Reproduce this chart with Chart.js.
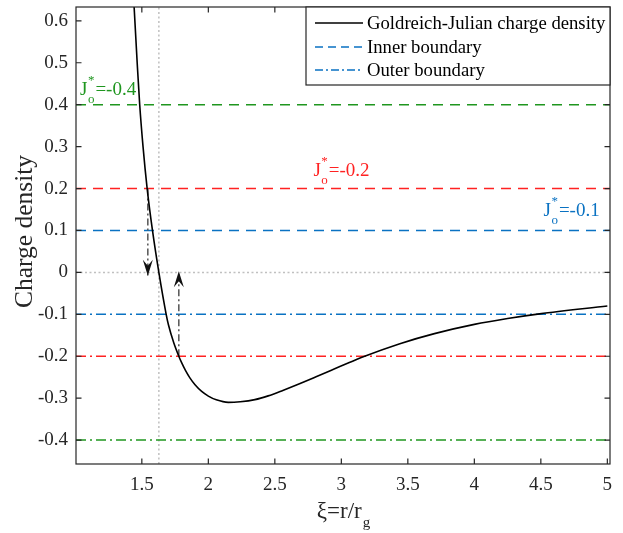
<!DOCTYPE html>
<html>
<head>
<meta charset="utf-8">
<script src="https://cdn.jsdelivr.net/npm/chart.js@4.4.1/dist/chart.umd.min.js"></script>
<style>
    html, body { margin: 0; padding: 0; background: #ffffff; }
    #chart-gj { display: block; }
</style>
</head>
<body>
<canvas id="chart-gj" width="623" height="533"></canvas>
<script>
// Goldreich-Julian charge density vs xi = r/r_g
const xi = [1.43, 1.442, 1.465, 1.484, 1.509, 1.540, 1.580, 1.628, 1.683, 1.70, 1.74, 1.778,
    1.80, 1.83, 1.86, 1.90, 1.95, 2.00, 2.06, 2.15, 2.24, 2.35, 2.45, 2.56, 2.69, 2.81, 2.95,
    3.06, 3.15, 3.44, 3.70, 4.00, 4.25, 4.49, 5.00];
const rhoGJ = [0.705, 0.633, 0.50, 0.40, 0.30, 0.20, 0.10, 0.0, -0.10, -0.125, -0.168, -0.200,
    -0.216, -0.235, -0.251, -0.268, -0.284, -0.295, -0.304, -0.310, -0.3085, -0.3035, -0.2945, -0.2815, -0.265, -0.249, -0.230,
    -0.215, -0.203, -0.170, -0.146, -0.124, -0.110, -0.099, -0.080];

// J_o^* levels with their inner / outer boundary densities
const jLevels = [-0.4, -0.2, -0.1];
const innerRho = [0.4, 0.2, 0.1];
const outerRho = [-0.4, -0.2, -0.1];
const levelColors = ['#1f961f', '#ff2222', '#0a72c2'];
const labelXi = [1.035, 2.79, 4.52];
const labelRho = [0.424, 0.23, 0.134];

// zero crossing of the density
const xiZero = 1.628;

// arrows: start on a boundary, end at rho = 0
const arrowXi = [1.545, 1.778];
const arrowFrom = [0.2, -0.2];
const arrowTo = [-0.008, 0.003];

const xTicks = [1.5, 2, 2.5, 3, 3.5, 4, 4.5, 5];
const yTicks = [-0.4, -0.3, -0.2, -0.1, 0, 0.1, 0.2, 0.3, 0.4, 0.5, 0.6];
const xRange = [1.005, 5.02];
const yRange = [-0.457, 0.633];

const legendLabels = ['Goldreich-Julian charge density', 'Inner boundary', 'Outer boundary'];

const serif = "'Liberation Serif', 'Times New Roman', serif";
const axisColor = '#262626';
const dashed = [10, 7];
const dashDot = [10, 4, 2, 4];

function segment(x0, y0, x1, y1) {
    return [{ x: x0, y: y0 }, { x: x1, y: y1 }];
}

// dataset 0 is painted last, so the curve goes first
const datasets = [];

datasets.push({
    data: xi.map((x, i) => ({ x: x, y: rhoGJ[i] })),
    borderColor: '#000000',
    borderWidth: 1.6,
    cubicInterpolationMode: 'monotone'
});

arrowXi.forEach((x, i) => {
    datasets.push({
        data: segment(x, arrowFrom[i], x, arrowTo[i]),
        borderColor: '#555555',
        borderWidth: 1.5,
        borderDash: [7, 3, 2, 3],
        isArrow: true
    });
});

jLevels.forEach((j, i) => {
    datasets.push({
        data: segment(xRange[0], innerRho[i], xRange[1], innerRho[i]),
        borderColor: levelColors[i],
        borderWidth: 1.5,
        borderDash: dashed
    });
    datasets.push({
        data: segment(xRange[0], outerRho[i], xRange[1], outerRho[i]),
        borderColor: levelColors[i],
        borderWidth: 1.5,
        borderDash: dashDot
    });
});

datasets.push({
    data: segment(xRange[0], 0, xRange[1], 0),
    borderColor: '#c0c0c0',
    borderWidth: 1.5,
    borderDash: [2, 2.5]
});
datasets.push({
    data: segment(xiZero, yRange[0], xiZero, yRange[1]),
    borderColor: '#c0c0c0',
    borderWidth: 1.5,
    borderDash: [2, 2.5]
});

datasets.forEach(d => {
    d.showLine = true;
    d.pointRadius = 0;
    d.fill = false;
});

// J_o^*=value with stacked sub/superscript
function drawJLabel(ctx, x, y, text, color) {
    ctx.fillStyle = color;
    ctx.textAlign = 'left';
    ctx.textBaseline = 'alphabetic';
    ctx.font = `19px ${serif}`;
    ctx.fillText('J', x, y);
    const wJ = ctx.measureText('J').width;
    ctx.font = `13px ${serif}`;
    ctx.fillText('*', x + wJ + 0.5, y - 11);
    ctx.fillText('o', x + wJ + 0.5, y + 8);
    const wS = Math.max(ctx.measureText('*').width, ctx.measureText('o').width);
    ctx.font = `19px ${serif}`;
    ctx.fillText('=' + text, x + wJ + wS + 1.5, y);
}

function drawArrowHead(ctx, p0, p1) {
    const dx = p1.x - p0.x, dy = p1.y - p0.y;
    const len = Math.hypot(dx, dy);
    const ux = dx / len, uy = dy / len;
    const nx = -uy, ny = ux;
    const L = 16, W = 10, notch = 10;
    ctx.beginPath();
    ctx.moveTo(p1.x, p1.y);
    ctx.lineTo(p1.x - ux * L + nx * W / 2, p1.y - uy * L + ny * W / 2);
    ctx.lineTo(p1.x - ux * notch, p1.y - uy * notch);
    ctx.lineTo(p1.x - ux * L - nx * W / 2, p1.y - uy * L - ny * W / 2);
    ctx.closePath();
    ctx.fillStyle = '#111111';
    ctx.fill();
}

const decoration = {
    id: 'decoration',
    afterDatasetsDraw(chart) {
        const ctx = chart.ctx;
        ctx.save();
        chart.data.datasets.forEach((d, i) => {
            if (!d.isArrow) return;
            const pts = chart.getDatasetMeta(i).data;
            drawArrowHead(ctx, pts[0], pts[1]);
        });
        ctx.restore();
    },
    afterDraw(chart) {
        const ctx = chart.ctx;
        const a = chart.chartArea;
        const sx = chart.scales.x, sy = chart.scales.y;
        ctx.save();

        // axes box and inward ticks
        ctx.strokeStyle = axisColor;
        ctx.lineWidth = 1.2;
        ctx.setLineDash([]);
        ctx.strokeRect(a.left, a.top, a.right - a.left, a.bottom - a.top);
        const tl = 5.5;
        ctx.beginPath();
        xTicks.forEach(v => {
            const px = sx.getPixelForValue(v);
            ctx.moveTo(px, a.bottom); ctx.lineTo(px, a.bottom - tl);
            ctx.moveTo(px, a.top); ctx.lineTo(px, a.top + tl);
        });
        yTicks.forEach(v => {
            const py = sy.getPixelForValue(v);
            ctx.moveTo(a.left, py); ctx.lineTo(a.left + tl, py);
            ctx.moveTo(a.right, py); ctx.lineTo(a.right - tl, py);
        });
        ctx.stroke();

        // level labels
        jLevels.forEach((j, i) => {
            drawJLabel(ctx, sx.getPixelForValue(labelXi[i]), sy.getPixelForValue(labelRho[i]),
                String(j), levelColors[i]);
        });

        // axis titles
        ctx.fillStyle = axisColor;
        ctx.textBaseline = 'alphabetic';
        ctx.font = `23px ${serif}`;
        const main = '\u03BE=r/r';
        const wMain = ctx.measureText(main).width;
        ctx.font = `15px ${serif}`;
        const wSub = ctx.measureText('g').width;
        const x0 = (a.left + a.right) / 2 - (wMain + wSub) / 2;
        ctx.textAlign = 'left';
        ctx.font = `23px ${serif}`;
        ctx.fillText(main, x0, 518);
        ctx.font = `15px ${serif}`;
        ctx.fillText('g', x0 + wMain + 1, 527);

        ctx.save();
        ctx.translate(31.5, 231.5);
        ctx.rotate(-Math.PI / 2);
        ctx.textAlign = 'center';
        ctx.font = `25.5px ${serif}`;
        ctx.fillText('Charge density', 0, 0);
        ctx.restore();

        // legend box
        const lx = 306, ly = a.top, lw = a.right - 306, lh = 78;
        ctx.fillStyle = '#ffffff';
        ctx.fillRect(lx, ly, lw, lh);
        ctx.strokeStyle = axisColor;
        ctx.lineWidth = 1.2;
        ctx.strokeRect(lx, ly, lw, lh);
        const rows = [23, 47, 70];
        const styles = [
            { color: '#000000', dash: [] },
            { color: levelColors[2], dash: [8, 5] },
            { color: levelColors[2], dash: [8, 3, 2, 3] }
        ];
        legendLabels.forEach((txt, i) => {
            ctx.strokeStyle = styles[i].color;
            ctx.setLineDash(styles[i].dash);
            ctx.lineWidth = 1.5;
            ctx.beginPath();
            ctx.moveTo(315, rows[i]);
            ctx.lineTo(363, rows[i]);
            ctx.stroke();
            ctx.setLineDash([]);
            ctx.fillStyle = '#000000';
            ctx.font = `18.7px ${serif}`;
            ctx.textAlign = 'left';
            ctx.textBaseline = 'middle';
            ctx.fillText(txt, 367, rows[i] + 1);
        });
        ctx.restore();
    }
};

new Chart(document.getElementById('chart-gj'), {
    type: 'scatter',
    data: { datasets: datasets },
    options: {
        responsive: false,
        animation: false,
        devicePixelRatio: 1,
        layout: { padding: { top: 7, right: 13, left: 0, bottom: 0 } },
        plugins: {
            legend: { display: false },
            tooltip: { enabled: false }
        },
        scales: {
            x: {
                type: 'linear',
                min: xRange[0],
                max: xRange[1],
                grid: { display: false, drawTicks: false },
                border: { display: false },
                afterBuildTicks: s => { s.ticks = xTicks.map(v => ({ value: v })); },
                afterFit: s => { s.height = 69; s.paddingLeft = 0; s.paddingRight = 0; },
                ticks: {
                    font: { family: serif, size: 19 },
                    color: axisColor,
                    padding: 10,
                    maxRotation: 0,
                    autoSkip: false,
                    callback: v => String(v)
                }
            },
            y: {
                type: 'linear',
                min: yRange[0],
                max: yRange[1],
                grid: { display: false, drawTicks: false },
                border: { display: false },
                afterBuildTicks: s => { s.ticks = yTicks.map(v => ({ value: v })); },
                afterFit: s => { s.width = 76; s.paddingTop = 0; s.paddingBottom = 0; },
                ticks: {
                    font: { family: serif, size: 19 },
                    color: axisColor,
                    padding: 8,
                    autoSkip: false,
                    callback: v => String(v)
                }
            }
        }
    },
    plugins: [decoration]
});
</script>
</body>
</html>
